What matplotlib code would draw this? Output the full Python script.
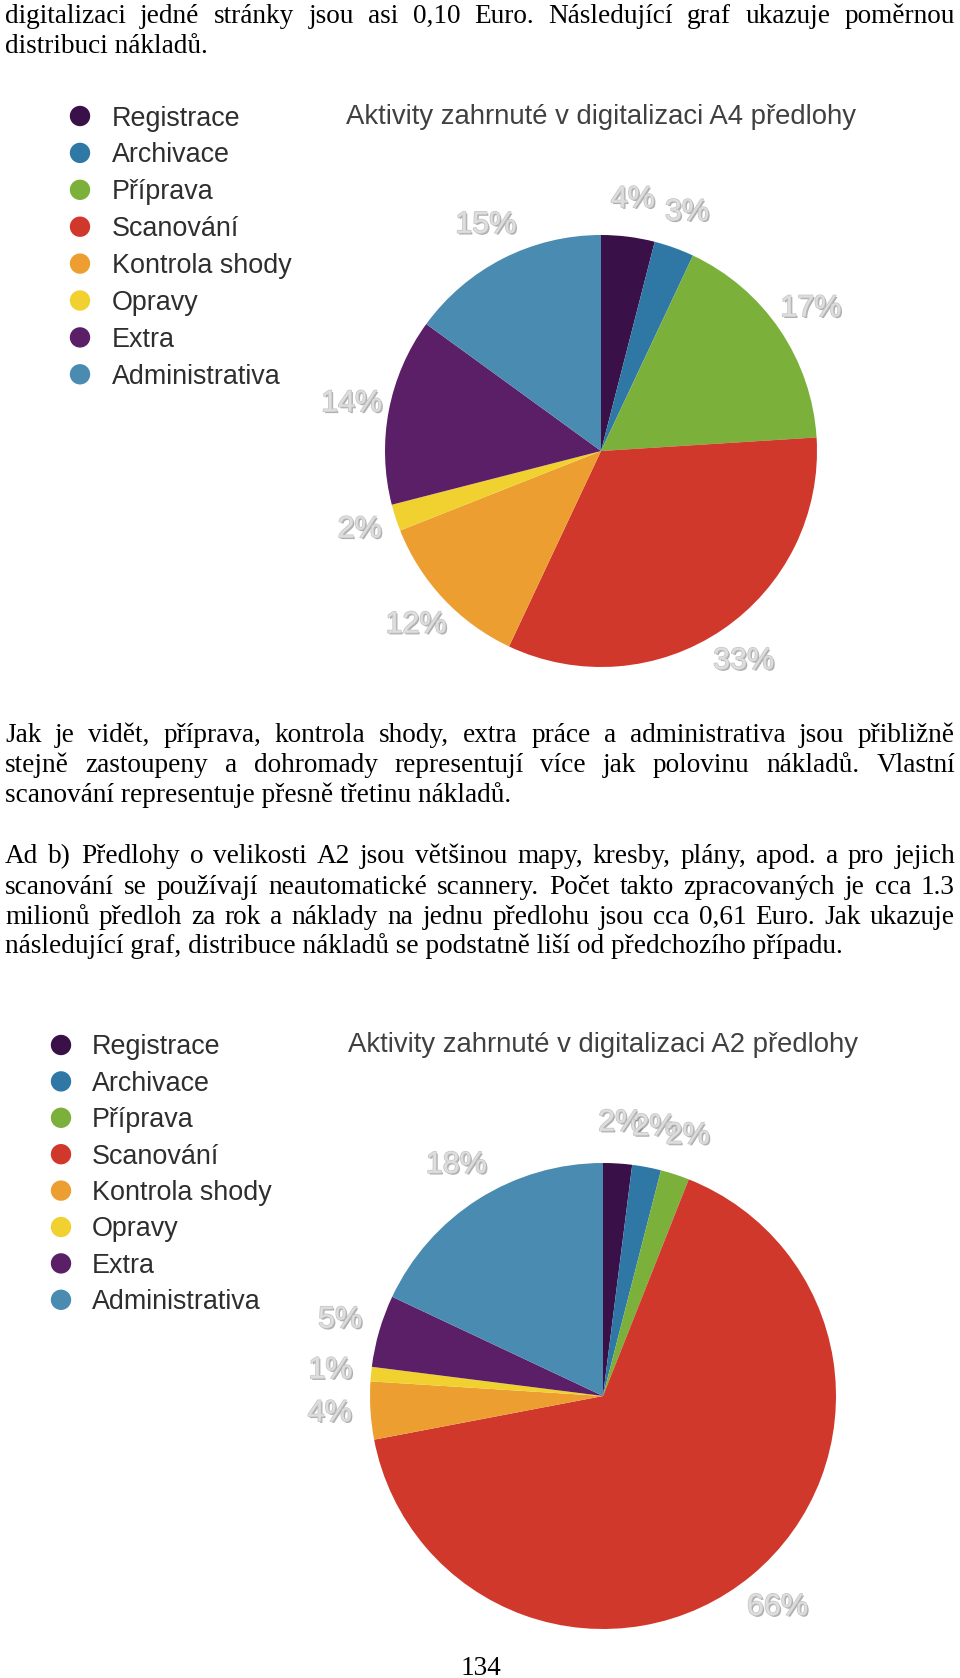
import matplotlib
matplotlib.use('Agg')
import matplotlib.pyplot as plt
import matplotlib.patheffects as pe

# ---------------- data ----------------
categories = ['Registrace', 'Archivace', 'Příprava', 'Scanování',
              'Kontrola shody', 'Opravy', 'Extra', 'Administrativa']
colors = ['#3a1048', '#2f78a6', '#7bb03b', '#d1382c',
          '#ec9f30', '#f1d130', '#5a1f66', '#4a8bb2']
a4_values = [4, 3, 17, 33, 12, 2, 14, 15]
a2_values = [2, 2, 2, 66, 4, 1, 5, 18]
a4_title = 'Aktivity zahrnuté v digitalizaci A4 předlohy'
a2_title = 'Aktivity zahrnuté v digitalizaci A2 předlohy'

top_lines = [
    'digitalizaci jedné stránky jsou asi 0,10 Euro. Následující graf ukazuje poměrnou',
    'distribuci nákladů.',
]
mid_lines = [
    'Jak je vidět, příprava, kontrola shody, extra práce a administrativa jsou přibližně',
    'stejně zastoupeny a dohromady representují více jak polovinu nákladů. Vlastní',
    'scanování representuje přesně třetinu nákladů.',
]
low_lines = [
    'Ad b) Předlohy o velikosti A2 jsou většinou mapy, kresby, plány, apod. a pro jejich',
    'scanování se používají neautomatické scannery. Počet takto zpracovaných je cca 1.3',
    'milionů předloh za rok a náklady na jednu předlohu jsou cca 0,61 Euro. Jak ukazuje',
    'následující graf, distribuce nákladů se podstatně liší od předchozího případu.',
]
page_number = '134'

# ---------------- layout ----------------
W, H = 960, 1678
fig = plt.figure(figsize=(W / 100, H / 100), dpi=100)
fig.patch.set_facecolor('white')
ov = fig.add_axes([0, 0, 1, 1], zorder=5)
ov.set_xlim(0, W)
ov.set_ylim(H, 0)
ov.axis('off')
ov.patch.set_alpha(0)

renderer = fig.canvas.get_renderer()
SERIF = 'Liberation Serif'
SANS = 'Liberation Sans'


def text_width(s, family, size):
    t = ov.text(0, 0, s, family=family, fontsize=size)
    w = t.get_window_extent(renderer).width
    t.remove()
    return w


def fit_size(s, family, target):
    return 20 * target / text_width(s, family, 20)


body_size = fit_size(low_lines[-1], SERIF, 838)
LEFT, RIGHT = 5, 955


def draw_par(lines, baselines):
    for i, (line, y) in enumerate(zip(lines, baselines)):
        last = (i == len(lines) - 1)
        if last:
            ov.text(LEFT, y, line, family=SERIF, fontsize=body_size,
                    ha='left', va='baseline', color='black')
            continue
        words = line.split(' ')
        widths = [text_width(w, SERIF, body_size) for w in words]
        gap = (RIGHT - LEFT - sum(widths)) / (len(words) - 1)
        x = LEFT
        for w, ww in zip(words, widths):
            ov.text(x, y, w, family=SERIF, fontsize=body_size,
                    ha='left', va='baseline', color='black')
            x += ww + gap


draw_par(top_lines, [23, 53])
draw_par(mid_lines, [742, 772, 802])
draw_par(low_lines, [863, 894, 924, 953])
ov.text(481, 1675, page_number, family=SERIF, fontsize=body_size,
        ha='center', va='baseline', color='black')

legend_size = fit_size('Registrace', SANS, 128)
title_size = fit_size(a4_title, SANS, 510)
pct_size = 22


def draw_legend(x_dot, x_lab, y0, step):
    ys = [y0 + i * step for i in range(len(categories))]
    ov.scatter([x_dot] * len(categories), ys, s=215, c=colors,
               edgecolors='none', zorder=6)
    for cat, y in zip(categories, ys):
        ov.text(x_lab, y + 9.5, cat, family=SANS, fontsize=legend_size,
                ha='left', va='baseline', color='#2e2e2e')


draw_legend(80, 112, 116, 36.9)
draw_legend(61, 92, 1045, 36.4)

label_fx = [pe.SimplePatchShadow(offset=(1.2, -1.2), shadow_rgbFace='#6e6e6e', alpha=0.55),
            pe.Stroke(linewidth=1.0, foreground='#c4c4c4'),
            pe.Normal()]


def draw_pie(values, title, cx, cy, r, title_y):
    side = 3.0 * r
    ax = fig.add_axes([(cx - side / 2) / W, (H - cy - side / 2) / H, side / W, side / H])
    wedges, texts, autotexts = ax.pie(
        values, colors=colors, startangle=90, counterclock=False, radius=1,
        autopct=lambda p: f'{p:.0f}%', pctdistance=1.175,
        wedgeprops=dict(linewidth=0),
        textprops=dict(family=SANS, fontsize=pct_size, color='#dedede'))
    for t in autotexts:
        t.set_path_effects(label_fx)
    ax.set_xlim(-1.5, 1.5)
    ax.set_ylim(-1.5, 1.5)
    ax.set_aspect('equal')
    ax.axis('off')
    ov.text(cx, title_y, title, family=SANS, fontsize=title_size,
            ha='center', va='baseline', color='#404040')


draw_pie(a4_values, a4_title, 601, 451, 216, 124)
draw_pie(a2_values, a2_title, 603, 1396, 233, 1052)

fig.savefig('out.png', dpi=100, facecolor='white')
